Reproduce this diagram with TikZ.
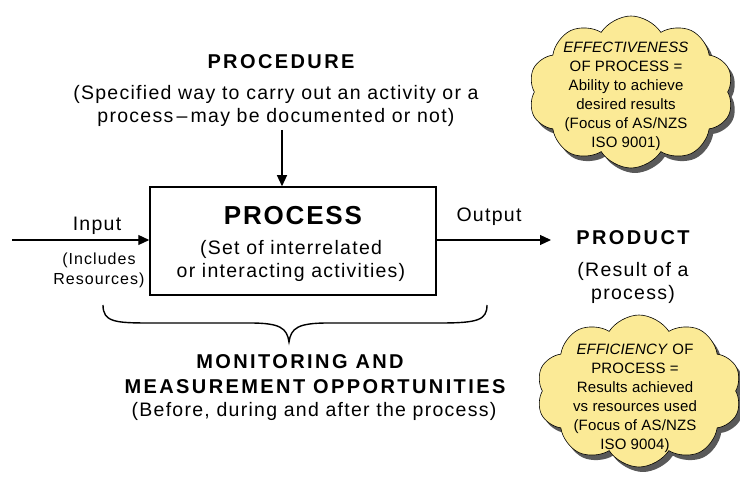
\documentclass[tikz,border=0pt]{standalone}
\usepackage{fontspec}
\setmainfont{Liberation Sans}
\usetikzlibrary{shapes.symbols,arrows.meta}
\definecolor{cloudy}{HTML}{FBEA96}
\tikzset{
  x=1pt,y=-1pt,
  arr/.style={-{Triangle[length=11pt,width=10pt]},line width=1.2pt},
  txt/.style={align=center,inner sep=0pt},
  head/.style={txt,font=\fontsize{20}{25}\selectfont\bfseries\addfontfeatures{LetterSpace=12}},
  body/.style={txt,font=\fontsize{19.5}{23}\selectfont\addfontfeatures{LetterSpace=6.5}},
  small/.style={txt,font=\fontsize{16}{20}\selectfont\addfontfeatures{LetterSpace=6.5}},
  cloudtxt/.style={txt,font=\fontsize{15}{19}\selectfont\addfontfeatures{LetterSpace=1}},
  puff/.style={cloud,cloud puffs=10,cloud puff arc=115,aspect=1.35,minimum width=205pt,minimum height=152pt,inner sep=0pt},
}
\begin{document}
\begin{tikzpicture}
\useasboundingbox (0,0) rectangle (740,478);
% procedure
\node[head] (proc) at (281,62) {PROCEDURE};
\node[body] (procd) at (276,106) {(Specified way to carry out an activity or a\\process\,–\,may be documented or not)};
% process box
\node[draw,line width=1.5pt,minimum width=286pt,minimum height=108pt,inner sep=0pt] (box) at (293,241) {};
\node[txt,font=\fontsize{26}{30}\selectfont\bfseries\addfontfeatures{LetterSpace=7}] (pt) at (293,216) {PROCESS};
\node[body] (pd) at (291,261) {(Set of interrelated\\or interacting activities)};
\draw[arr] (282,130) -- (box.north -| 282,0);
% input
\coordinate (in0) at (12,240);
\draw[arr] (in0) -- (box.west |- in0);
\node[body] (inl) at (97,226) {Input};
\node[small] (inc) at (99,270) {(Includes\\Resources)};
% output
\node[head] (prod) at (633,238) {PRODUCT};
\node[body] (prodd) at (633,283) {(Result of a\\process)};
\draw[arr] (box.east |- in0) -- (551,240);
\node[body] (outl) at (489,217) {Output};
% brace
\draw[line width=1.4pt] (103,305) .. controls (103,322) and (115,323) .. (150,323) -- (250,323) .. controls (280,323) and (287,328) .. (289,342)
  .. controls (291,328) and (298,323) .. (328,323) -- (440,323) .. controls (478,323) and (487,320) .. (487,305);
\node[head] (mon) at (300,362) {MONITORING AND};
\node[head] (mon2) at (315,387) {MEASUREMENT OPPORTUNITIES};
\node[body] (mond) at (314,411) {(Before, during and after the process)};
% cloud 1
\node[puff,fill=black!65] at (635,97) {};
\node[puff,draw,fill=cloudy,line width=0.6pt] (c1) at (631,92) {};
\node[cloudtxt] (c1t) at (626,96) {\textit{EFFECTIVENESS}\\OF PROCESS =\\Ability to achieve\\desired results\\(Focus of AS/NZS\\ISO 9001)};
% cloud 2
\node[puff,fill=black!65] at (643,396) {};
\node[puff,draw,fill=cloudy,line width=0.6pt] (c2) at (639,391) {};
\node[cloudtxt] (c2t) at (635,398) {\textit{EFFICIENCY} OF\\PROCESS =\\Results achieved\\vs resources used\\(Focus of AS/NZS\\ISO 9004)};
\end{tikzpicture}
\end{document}
